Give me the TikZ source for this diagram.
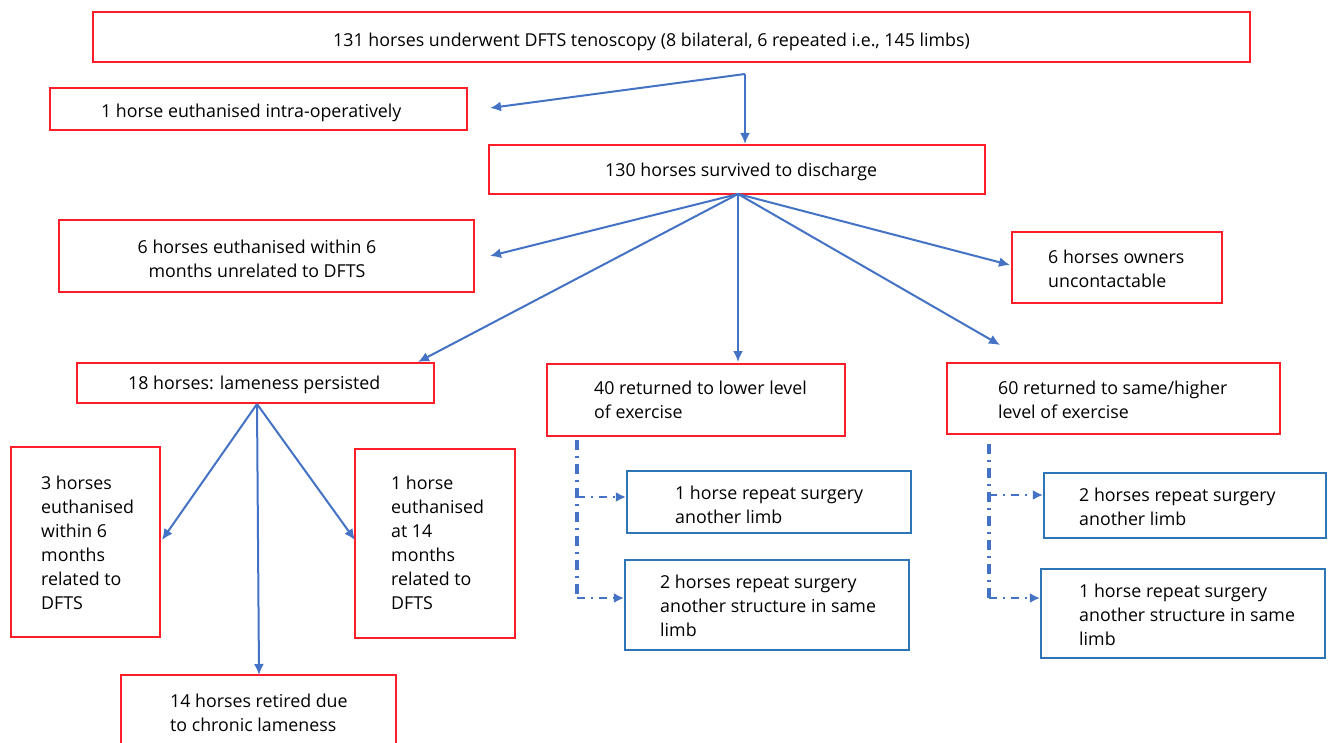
\documentclass[tikz,border=0pt]{standalone}
\usepackage{fontspec}
\setmainfont{Open Sans}
\usetikzlibrary{arrows.meta}
\definecolor{boxred}{RGB}{255,30,40}
\definecolor{boxblue}{RGB}{46,117,182}
\definecolor{arrblue}{RGB}{68,114,196}
\tikzset{
  rbox/.style={draw=boxred, line width=2.2pt, rectangle, inner sep=0pt},
  bbox/.style={draw=boxblue, line width=2.2pt, rectangle, inner sep=0pt},
  txt/.style={anchor=west, align=left, inner sep=0pt, yshift=-1.5pt, font=\fontsize{17.8}{24}\selectfont},
  arr/.style={draw=arrblue, line width=2pt, -{Latex[length=11pt,width=10pt]}},
  dd/.style={draw=arrblue, line width=3.2pt, dash pattern=on 10pt off 6pt on 2pt off 6pt},
  ddarr/.style={draw=arrblue, line width=2.2pt, dash pattern=on 8pt off 6pt on 2pt off 6pt, -{Latex[length=10pt,width=10pt]}}
}
\begin{document}
\begin{tikzpicture}[x=1pt,y=-1pt]
\useasboundingbox[fill=white] (0,0) rectangle (1328,742);
% red boxes
\node[rbox, minimum width=1157pt, minimum height=50pt] (top) at (671.5,37) {};
\node[txt] (topt) at (333,40) {131 horses underwent DFTS tenoscopy (8 bilateral, 6 repeated i.e., 145 limbs)};
\node[rbox, minimum width=417pt, minimum height=42pt] (intra) at (258.5,109) {};
\node[txt] (intrat) at (101,111) {1 horse euthanised intra-operatively};
\node[rbox, minimum width=496pt, minimum height=49pt] (surv) at (737,169.5) {};
\node[txt] (survt) at (605,170) {130 horses survived to discharge};
\node[rbox, minimum width=415pt, minimum height=72pt] (six) at (266.5,256) {};
\node[txt, anchor=center, align=center] (sixt) at (257,257) {6 horses euthanised within 6\\months unrelated to DFTS};
\node[rbox, minimum width=210pt, minimum height=71pt] (own) at (1117,267.5) {};
\node[txt] (ownt) at (1048,267) {6 horses owners\\uncontactable};
\node[rbox, minimum width=357pt, minimum height=40pt] (lame) at (255.5,383) {};
\node[txt] (lamet) at (128,383) {18 horses: lameness persisted};
\node[rbox, minimum width=298pt, minimum height=72pt] (lower) at (696,400) {};
\node[txt] (lowert) at (594,398) {40 returned to lower level\\of exercise};
\node[rbox, minimum width=333pt, minimum height=71pt] (same) at (1113.5,398.5) {};
\node[txt] (samet) at (998,398) {60 returned to same/higher\\level of exercise};
\node[rbox, minimum width=149pt, minimum height=190pt] (three) at (85.5,542) {};
\node[txt] (threet) at (41,541) {3 horses\\euthanised\\within 6\\months\\related to\\DFTS};
\node[rbox, minimum width=160pt, minimum height=189pt] (one) at (435,543.5) {};
\node[txt] (onet) at (391,541) {1 horse\\euthanised\\at 14\\months\\related to\\DFTS};
\node[rbox, minimum width=275pt, minimum height=85pt] (ret) at (258.5,717.5) {};
\node[txt] (rett) at (170,711.5) {14 horses retired due\\to chronic lameness};
% blue boxes
\node[bbox, minimum width=284pt, minimum height=62pt] (b1) at (769,502) {};
\node[txt] (b1t) at (675,503) {1 horse repeat surgery\\another limb};
\node[bbox, minimum width=284pt, minimum height=90pt] (b2) at (767,605) {};
\node[txt] (b2t) at (660,604) {2 horses repeat surgery\\another structure in same\\limb};
\node[bbox, minimum width=282pt, minimum height=65pt] (b3) at (1185,505.5) {};
\node[txt] (b3t) at (1079,505) {2 horses repeat surgery\\another limb};
\node[bbox, minimum width=284pt, minimum height=89pt] (b4) at (1183,613.5) {};
\node[txt] (b4t) at (1079,613) {1 horse repeat surgery\\another structure in same\\limb};
% connectors
\coordinate (j1) at (745,74);
\coordinate (e1) at (490,108);
\draw[arr] (j1) -- (e1);
\draw[arr] (j1) -- (j1 |- surv.north);
\coordinate (fan) at (738,194);
\coordinate (e2) at (490,256);
\coordinate (e3) at (418,362);
\coordinate (e4) at (738,362);
\coordinate (e5) at (1010,265);
\coordinate (e6) at (1000,345);
\draw[arr] (fan) -- (e2);
\draw[arr] (fan) -- (e3);
\draw[arr] (fan) -- (e4);
\draw[arr] (fan) -- (e5);
\draw[arr] (fan) -- (e6);
\coordinate (lb) at (257,404);
\draw[arr] (lb) -- (162,540);
\draw[arr] (lb) -- (355,540);
\draw[arr] (lb) -- (259,675);
% dash-dot
\coordinate (d1) at (577,440);
\coordinate (d2) at (577,598);
\draw[dd] (d1) -- (d2);
\draw[ddarr] (577,497) -- (b1.west |- 0,497);
\draw[ddarr] (d2) -- (b2.west |- d2);
\coordinate (d3) at (989,444);
\coordinate (d4) at (989,598);
\draw[dd] (d3) -- (d4);
\draw[ddarr] (989,495) -- (b3.west |- 0,495);
\draw[ddarr] (d4) -- (b4.west |- d4);
\end{tikzpicture}
\end{document}
